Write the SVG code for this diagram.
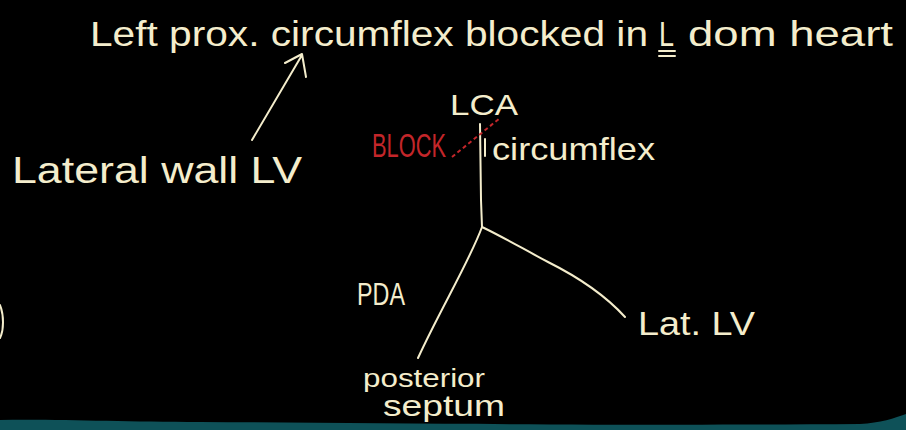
<svg xmlns="http://www.w3.org/2000/svg" width="906" height="430" viewBox="0 0 906 430">
  <style>
    .ink { fill: #f4edcc; font-family: "Liberation Sans", "DejaVu Sans", sans-serif; }
    .red { fill: #c3262a; font-family: "Liberation Sans", "DejaVu Sans", sans-serif; }
    .stroke { fill: none; stroke: #f4edcc; stroke-width: 2; stroke-linecap: round; stroke-linejoin: round; }
  </style>
  <rect width="906" height="430" fill="#000"/>
  <!-- teal bar along the bottom edge -->
  <path d="M0,420 C60,419 120,422 200,422 C400,423 600,426 860,424 C880,423 895,418 906,414 L906,430 L0,430 Z" fill="#0e5158"/>

  <g id="title">
    <text class="ink" x="90" y="46" font-size="35" textLength="558" lengthAdjust="spacingAndGlyphs">Left prox. circumflex blocked in</text>
    <text class="ink" x="659" y="46" font-size="35" textLength="15" lengthAdjust="spacingAndGlyphs">L</text>
    <path class="stroke" d="M659,51 L675,51 M659,56 L675,56" stroke-width="1.6"/>
    <text class="ink" x="688" y="46" font-size="35" textLength="205" lengthAdjust="spacingAndGlyphs">dom heart</text>
  </g>

  <g id="lateral-wall">
    <text class="ink" x="12" y="183" font-size="36" textLength="290" lengthAdjust="spacingAndGlyphs">Lateral wall LV</text>
  </g>

  <g id="lca">
    <text class="ink" x="450" y="115" font-size="29" textLength="68" lengthAdjust="spacingAndGlyphs">LCA</text>
  </g>
  <g id="block">
    <text class="red" x="372" y="157" font-size="33" textLength="74" lengthAdjust="spacingAndGlyphs">BLOCK</text>
  </g>
  <g id="circumflex">
    <text class="ink" x="492" y="160" font-size="32" textLength="163" lengthAdjust="spacingAndGlyphs">circumflex</text>
  </g>
  <g id="pda">
    <text class="ink" x="357" y="305" font-size="32" textLength="48" lengthAdjust="spacingAndGlyphs">PDA</text>
  </g>
  <g id="lat-lv">
    <text class="ink" x="638" y="335" font-size="34" textLength="117" lengthAdjust="spacingAndGlyphs">Lat. LV</text>
  </g>
  <g id="posterior-septum">
    <text class="ink" x="363" y="387" font-size="25" textLength="122" lengthAdjust="spacingAndGlyphs">posterior</text>
    <text class="ink" x="383" y="416" font-size="29" textLength="122" lengthAdjust="spacingAndGlyphs">septum</text>
  </g>

  <g id="connectors">
    <!-- arrow from lateral wall up to the title -->
    <path class="stroke" d="M252,140 L302,55 M285,63 L302,54 L306,77"/>
    <!-- artery trunk and branches -->
    <path class="stroke" d="M480,124 L481,200 L482,227"/>
    <path class="stroke" d="M485,139 L485,156" stroke-width="1.5"/>
    <path class="stroke" d="M482,227 C470,260 440,310 418,358"/>
    <path class="stroke" d="M482,227 C505,238 525,250 548,262 C580,278 605,295 625,317"/>
    <!-- blockage mark -->
    <path d="M452,157 L500,118" fill="none" stroke="#c3262a" stroke-width="2" stroke-dasharray="4,3"/>
    <!-- partial stroke at the left edge -->
    <path class="stroke" d="M0,305 C4,315 4,330 0,338" stroke-width="1.5"/>
  </g>
</svg>
